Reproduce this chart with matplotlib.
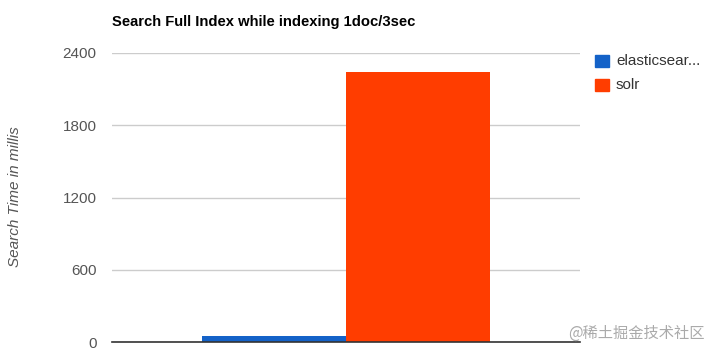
import matplotlib
matplotlib.use("Agg")
import matplotlib.pyplot as plt
from matplotlib.patches import Rectangle

series = ["elasticsear...", "solr"]
values = [50, 2240]
colors = ["#1462c8", "#ff3d00"]
yticks = [0, 600, 1200, 1800, 2400]
title = "Search Full Index while indexing 1doc/3sec"
ylabel = "Search Time in millis"

plt.rcParams['font.family'] = ['Liberation Sans', 'DejaVu Sans']

fig = plt.figure(figsize=(7.09, 3.54), dpi=100)
ax = fig.add_axes([112/709, 1-342/354, (580-112)/709, (342-53)/354])

bw = 0.3077
offsets = [-bw/2, bw/2]
for off, v, c in zip(offsets, values, colors):
    ax.bar(off, v, width=bw, color=c, zorder=3)

ax.set_xlim(-0.5, 0.5)
ax.set_ylim(0, 2400)
ax.set_yticks(yticks)
ax.set_yticklabels([str(t) for t in yticks], color="#555555", fontsize=11)
ax.set_xticks([])
ax.tick_params(axis='y', length=0, pad=11)
ax.grid(axis='y', color="#cccccc", linewidth=1, zorder=0)
for s in ["top", "right", "left"]:
    ax.spines[s].set_visible(False)
ax.spines["bottom"].set_color("#333333")
ax.spines["bottom"].set_linewidth(1.2)
ax.spines["bottom"].set_zorder(4)

fig.text(112/709, 1-22/354, title, fontsize=10.6, fontweight='bold', va='center', ha='left', color="#000000")
fig.text(15/709, 1-197/354, ylabel, fontsize=11, style='italic', color="#555555",
         rotation=90, va='center', ha='center')

# legend
for i, (name, c) in enumerate(zip(series, colors)):
    yc = 1 - (61 + i*24)/354
    fig.patches.append(Rectangle((595/709, yc - 6/354), 14/709, 12/354,
                                 transform=fig.transFigure, color=c, figure=fig))
    fig.text(616/709, yc, name, fontsize=11, color="#333333", va='center', ha='left')

fig.text(705/709, 1-333/354, "@稀土掘金技术社区", fontsize=11, color="#aaaaaa",
         ha='right', va='center', family=['Noto Sans CJK SC', 'DejaVu Sans'])

fig.savefig("out.png", dpi=100)
